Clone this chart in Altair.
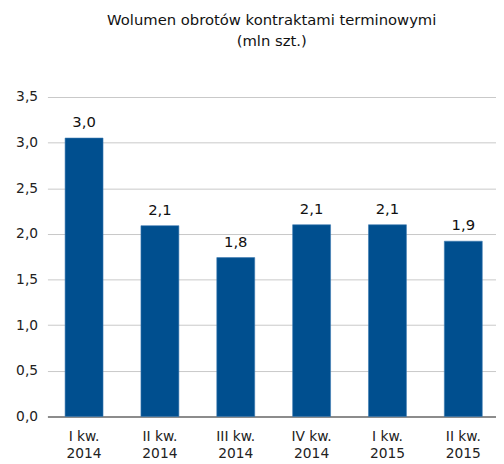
import altair as alt
import pandas as pd

categories = ["I kw. 2014", "II kw. 2014", "III kw. 2014", "IV kw. 2014", "I kw. 2015", "II kw. 2015"]
values = [3.05, 2.09, 1.74, 2.10, 2.10, 1.92]
value_labels = ["3,0", "2,1", "1,8", "2,1", "2,1", "1,9"]
y_ticks = [0, 0.5, 1.0, 1.5, 2.0, 2.5, 3.0, 3.5]

df = pd.DataFrame({"kw": categories, "v": values, "lab": value_labels})

FONT = "DejaVu Sans"

x = alt.X(
    "kw:N",
    sort=categories,
    title=None,
    scale=alt.Scale(paddingInner=0.5, paddingOuter=0.207, align=0.5625),
    axis=alt.Axis(
        labelAngle=0,
        labelFont=FONT,
        labelFontSize=14,
        labelColor="#222222",
        labelPadding=13,
        labelLineHeight=18,
        ticks=False,
        domainColor="#8c8c8c",
        domainWidth=2,
        labelExpr="[slice(datum.value, 0, indexof(datum.value, ' 20')), slice(datum.value, indexof(datum.value, ' 20') + 1)]",
    ),
)

y = alt.Y(
    "v:Q",
    title=None,
    scale=alt.Scale(domain=[0, 3.5], nice=False),
    axis=alt.Axis(
        values=y_ticks,
        labelFont=FONT,
        labelFontSize=14,
        labelColor="#222222",
        labelPadding=10,
        ticks=False,
        domain=False,
        gridColor="#c8c8c8",
        gridWidth=1,
        labelExpr="replace(format(datum.value, '.1f'), '.', ',')",
    ),
)

bars = alt.Chart(df).mark_bar(color="#004F8F", stroke="#3a78b0", strokeWidth=0.6).encode(x=x, y=y)
texts = alt.Chart(df).mark_text(
    baseline="bottom", dy=-8, font=FONT, fontSize=15, color="#111111"
).encode(x=alt.X("kw:N", sort=categories), y="v:Q", text="lab:N")

chart = (
    alt.layer(bars, texts)
    .properties(
        width=455,
        height=324,
        autosize=alt.AutoSizeParams(type="none"),
        padding={"left": 40, "top": 87, "right": 0, "bottom": 45},
        title=alt.TitleParams(
            text=["Wolumen obrotów kontraktami terminowymi", "(mln szt.)"],
            font=FONT,
            fontSize=15,
            fontWeight="normal",
            color="#111111",
            anchor="middle",
            lineHeight=21,
            offset=42,
        ),
    )
    .configure_view(stroke=None)
)

chart.save("out.html", embed_options={"renderer": "svg", "actions": False})
